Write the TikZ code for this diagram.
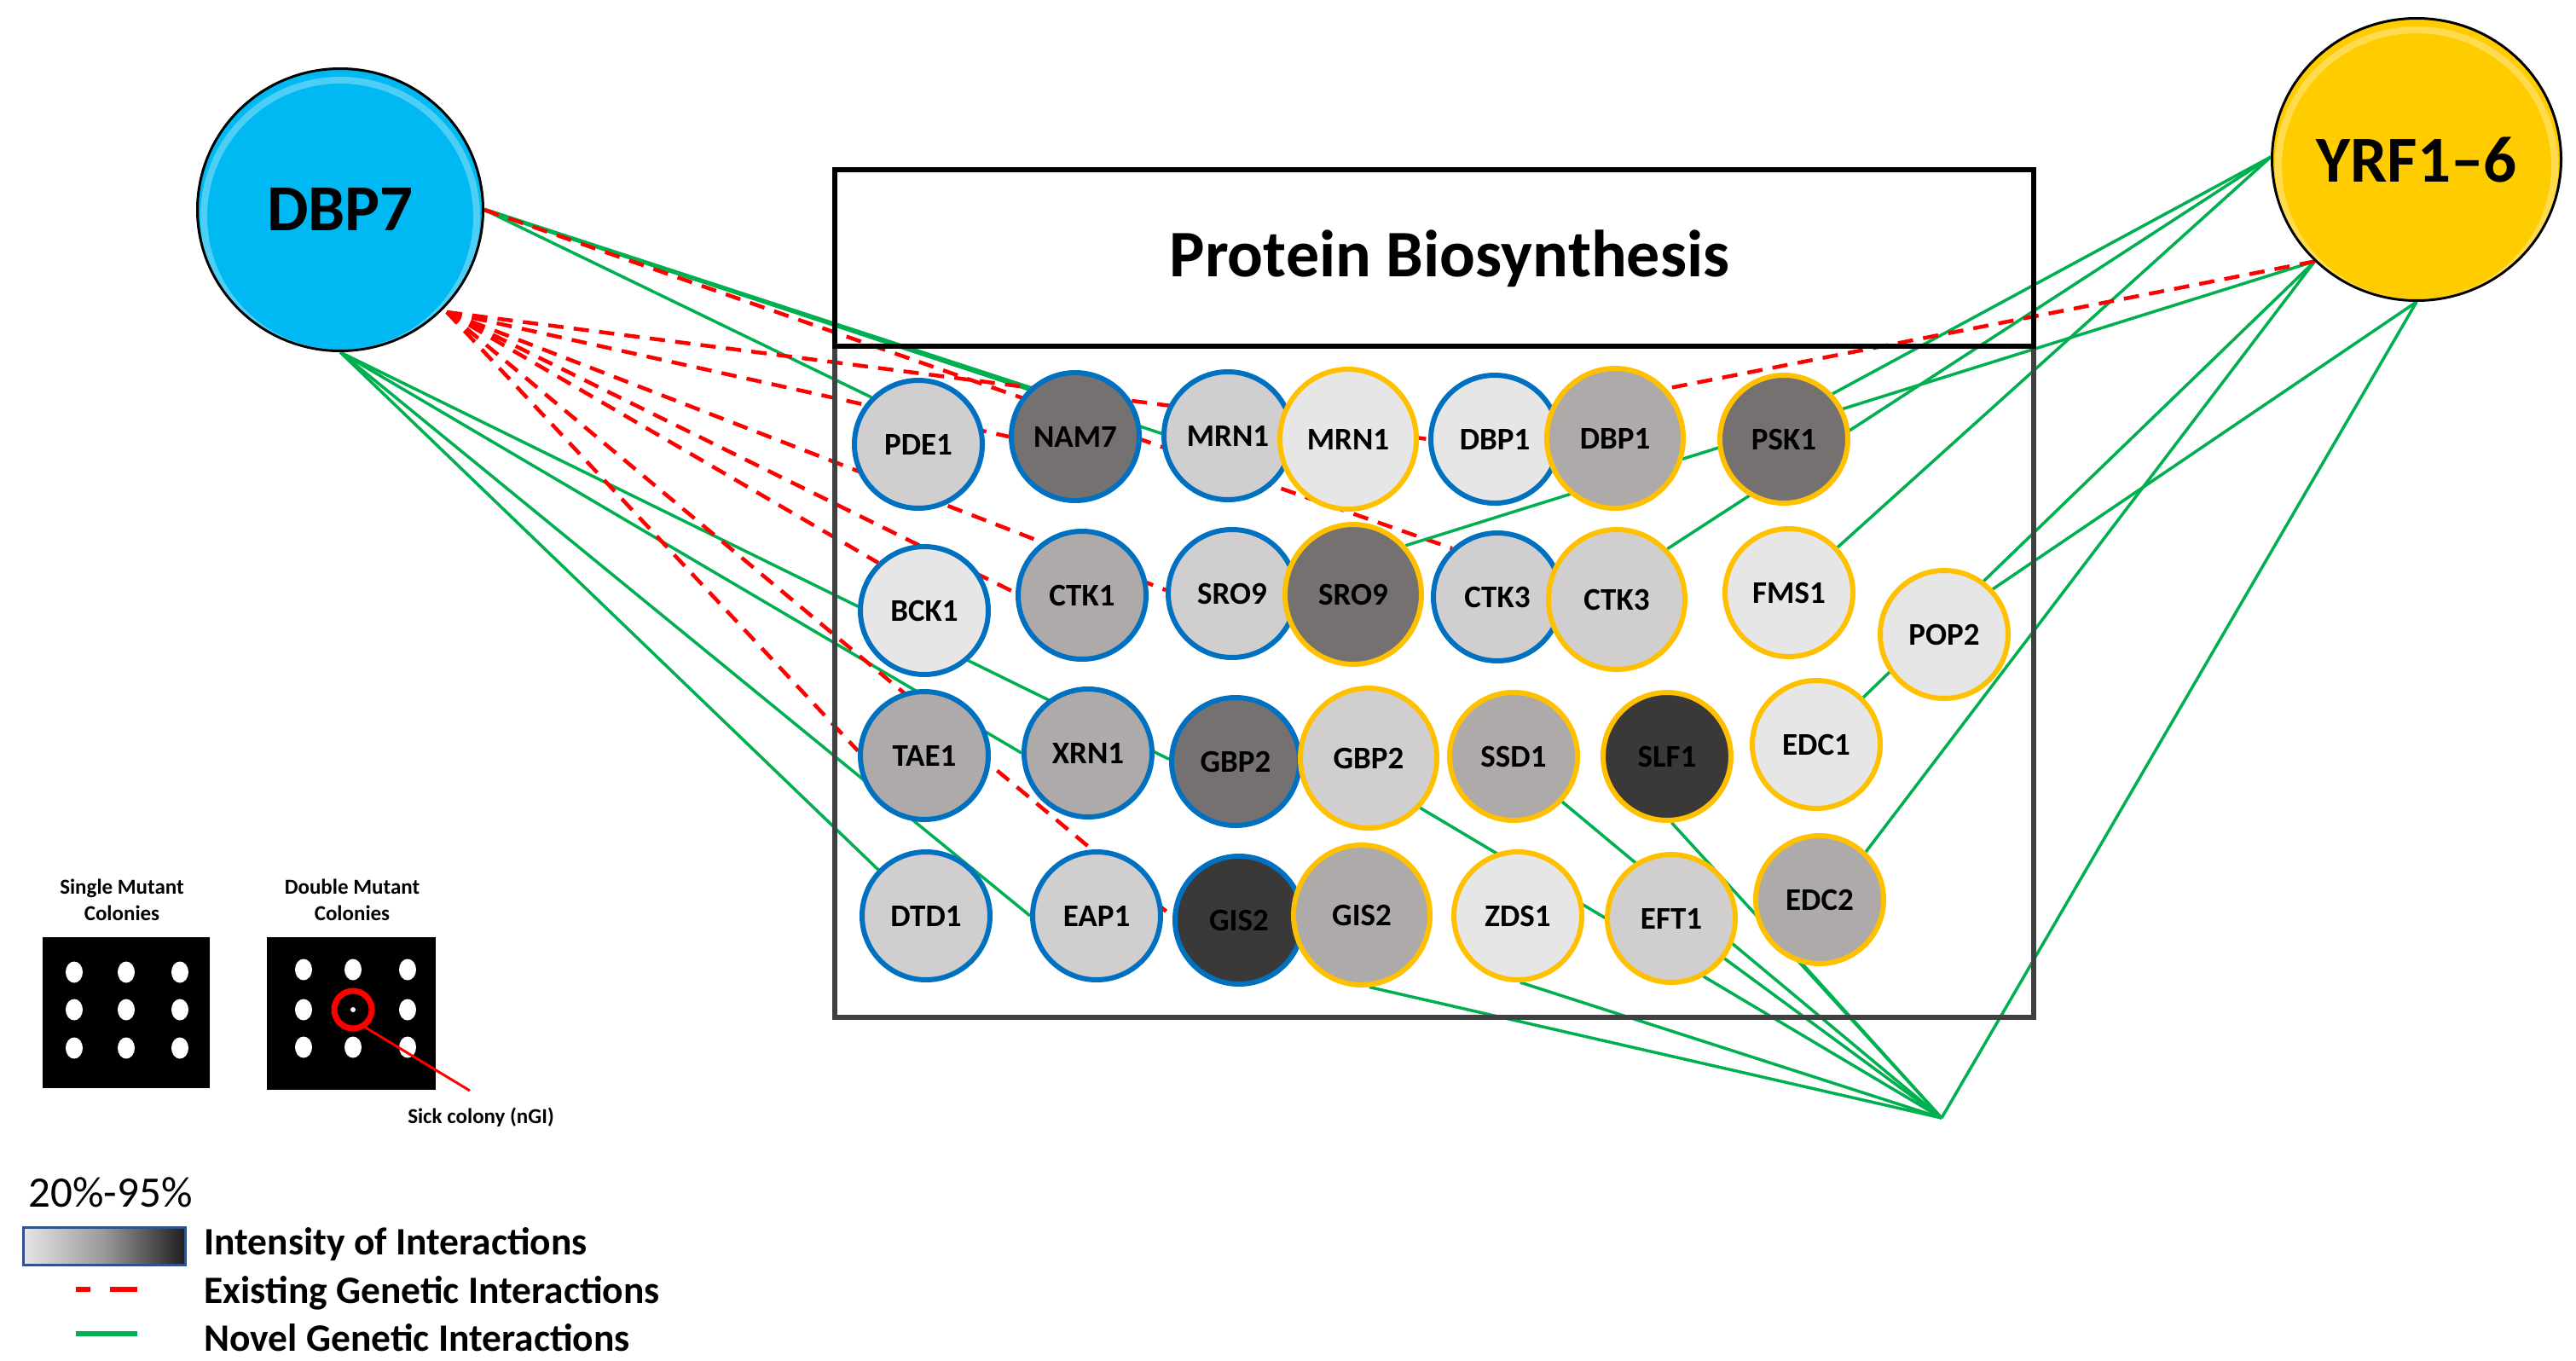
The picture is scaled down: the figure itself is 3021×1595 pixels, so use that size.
\documentclass[tikz,border=0pt]{standalone}
\usepackage{fontspec}
\setmainfont{Carlito}
\usetikzlibrary{shapes.geometric,backgrounds,calc}
\definecolor{gA}{HTML}{E7E6E6}
\definecolor{gB}{HTML}{D0CECE}
\definecolor{gC}{HTML}{AEAAAA}
\definecolor{gD}{HTML}{767171}
\definecolor{gE}{HTML}{3B3838}
\definecolor{bordB}{HTML}{0070C0}
\definecolor{bordY}{HTML}{FFC000}
\definecolor{novel}{HTML}{00B050}
\definecolor{exist}{HTML}{FF0000}
\definecolor{dbpcol}{HTML}{00B9F2}
\definecolor{yrfcol}{HTML}{FFCC00}
\definecolor{boxgray}{HTML}{404040}
\definecolor{legblue}{HTML}{2F528F}
\begin{document}
\begin{tikzpicture}[x=1pt,y=-1pt,
  gene/.style={ellipse, minimum width=150pt, minimum height=150pt, line width=6pt, inner sep=0pt,
    font=\bfseries\fontsize{37}{40}\selectfont},
  bgene/.style={gene, draw=bordB},
  ygene/.style={gene, draw=bordY},
  biggene/.style={minimum width=160pt, minimum height=164pt},
  hubnode/.style={ellipse, line width=3pt, draw=black, inner sep=0pt, font=\bfseries\fontsize{77}{80}\selectfont},
  nov/.style={draw=novel, line width=3.5pt},
  exi/.style={draw=exist, line width=4.5pt, dash pattern=on 18pt off 12pt},
  legtext/.style={anchor=west, font=\bfseries\fontsize{45.5}{50}\selectfont},
  smalltext/.style={font=\bfseries\fontsize{25}{31}\selectfont, align=center},
  dot/.style={ellipse, fill=white, minimum width=20pt, minimum height=25pt, inner sep=0pt},
]
\useasboundingbox (0,0) rectangle (3021,1595);

% ---------- boxes ----------
\draw[boxgray, line width=6pt] (979,406) rectangle (2385,1193);
\draw[black, line width=6pt] (979,199) rectangle (2385,406);
\node[font=\bfseries\fontsize{78}{82}\selectfont] (title) at (1700,303) {Protein Biosynthesis};

% ---------- hubs ----------
\node[hubnode, fill=dbpcol, minimum width=335pt, minimum height=331pt] (dbp7) at (399,246) {DBP7};
\node[hubnode, fill=yrfcol, minimum width=339pt, minimum height=331pt] (yrf) at (2834,187) {YRF1–6};
\begin{scope}
  \clip (399,246) ellipse (166pt and 164pt);
  \draw[white, opacity=0.3, line width=8pt] (399,254) ellipse (160pt and 160pt);
\end{scope}
\begin{scope}
  \clip (2834,187) ellipse (168pt and 164pt);
  \draw[white, opacity=0.3, line width=8pt] (2834,195) ellipse (162pt and 160pt);
\end{scope}

% ---------- blue genes (DBP7 side) ----------
\node[bgene, fill=gB] (pde1)  at (1077,521) {PDE1};
\node[bgene, fill=gD] (nam7)  at (1261,512) {NAM7};
\node[bgene, fill=gB] (mrn1b) at (1440,511) {MRN1};
\node[bgene, fill=gA] (dbp1b) at (1753,515) {DBP1};
\node[bgene, fill=gA] (bck1)  at (1084,716) {BCK1};
\node[bgene, fill=gC] (ctk1)  at (1269,698) {CTK1};
\node[bgene, fill=gB] (sro9b) at (1445,696) {SRO9};
\node[bgene, fill=gB] (ctk3b) at (1756,700) {CTK3};
\node[bgene, fill=gC] (tae1)  at (1084,886) {TAE1};
\node[bgene, fill=gC] (xrn1)  at (1276,883) {XRN1};
\node[bgene, fill=gD] (gbp2b) at (1449,893) {GBP2};
\node[bgene, fill=gB] (dtd1)  at (1086,1074) {DTD1};
\node[bgene, fill=gB] (eap1)  at (1286,1074) {EAP1};
\node[bgene, fill=gE] (gis2b) at (1453,1079) {GIS2};

% ---------- yellow genes (YRF1-6 side) ----------
\node[ygene, biggene, fill=gA] (mrn1y) at (1581,515) {MRN1};
\node[ygene, biggene, fill=gC] (dbp1y) at (1894,514) {DBP1};
\node[ygene, fill=gD] (psk1)  at (2092,515) {PSK1};
\node[ygene, biggene, fill=gD] (sro9y) at (1587,697) {SRO9};
\node[ygene, biggene, fill=gB] (ctk3y) at (1896,703) {CTK3};
\node[ygene, fill=gA] (fms1)  at (2098,695) {FMS1};
\node[ygene, fill=gA] (pop2)  at (2280,744) {POP2};
\node[ygene, biggene, fill=gB] (gbp2y) at (1605,889) {GBP2};
\node[ygene, fill=gC] (ssd1)  at (1775,887) {SSD1};
\node[ygene, fill=gE] (slf1)  at (1955,887) {SLF1};
\node[ygene, fill=gA] (edc1)  at (2130,873) {EDC1};
\node[ygene, biggene, fill=gC] (gis2y) at (1597,1073) {GIS2};
\node[ygene, fill=gA] (zds1)  at (1780,1074) {ZDS1};
\node[ygene, fill=gB] (eft1)  at (1960,1077) {EFT1};
\node[ygene, fill=gC] (edc2)  at (2134,1055) {EDC2};

\coordinate (hub) at (2277,1311);
\coordinate (dbpr) at (dbp7.east);
\coordinate (dbpo) at ($(dbp7.center)+(125,120)$);
\coordinate (dbpb) at (dbp7.south);
\coordinate (yl) at (yrf.179);
\coordinate (yll) at (yrf.225);
\coordinate (yb) at (yrf.south);

% ---------- connectors ----------
\begin{pgfonlayer}{background}
  % DBP7 novel
  \draw[nov, line width=5pt] (dbpr) -- (nam7.133);
  \draw[nov] (dbpr) -- (mrn1b.178);
  \draw[nov] (dbpr) -- (pde1.135);
  \draw[nov] (dbpb) -- (gbp2b.178);
  \draw[nov] (dbpb) -- (xrn1.180);
  \draw[nov] (dbpb) -- (eap1.180);
  \draw[nov] (dbpb) -- (dtd1.136);
  % DBP7 existing
  \draw[exi] (dbpr) -- (ctk3b.133);
  \draw[exi] (dbpo) -- (dbp1b.180);
  \draw[exi] (dbpo) -- (nam7.180);
  \draw[exi] (dbpo) -- (sro9b.177);
  \draw[exi] (dbpo) -- (ctk1.178);
  \draw[exi] (dbpo) -- (bck1.134);
  \draw[exi] (dbpo) -- (gis2b.177);
  \draw[exi] (dbpo) -- (tae1.176);
  % YRF1-6 novel
  \draw[nov] (yl) -- (psk1.43);
  \draw[nov] (yl) -- (ctk3y.45);
  \draw[nov] (yl) -- (fms1.43);
  \draw[nov] (yll) -- (sro9y.43);
  \draw[nov] (yll) -- (edc1.45);
  \draw[nov] (yll) -- (edc2.46);
  \draw[nov] (yb) -- (pop2.43);
  \draw[nov] (yb) -- (hub);
  % YRF1-6 existing
  \draw[exi] (yll) -- (dbp1y.44);
  % hub
  \draw[nov] (hub) -- (gis2y.-84);
  \draw[nov] (hub) -- (zds1.-88);
  \draw[nov] (hub) -- (gbp2y.-44);
  \draw[nov] (hub) -- (ssd1.-43);
  \draw[nov] (hub) -- (slf1.-86);
  \draw[nov] (hub) -- (eft1.-37);
  \draw[nov] (hub) -- (edc2.-105);
\end{pgfonlayer}

% ---------- colony legend ----------
\node[smalltext] (single) at (143,1055) {Single Mutant\\Colonies};
\node[smalltext] (double) at (413,1055) {Double Mutant\\Colonies};
\node[fill=black, minimum width=196pt, minimum height=177pt, inner sep=0pt] (plate1) at (148,1187.5) {};
\node[fill=black, minimum width=198pt, minimum height=179pt, inner sep=0pt] (plate2) at (412,1188.5) {};
\foreach \xx in {87,148,211}{
  \foreach \yy in {1140,1184,1229}{
    \node[dot] at (\xx,\yy) {};
  }
}
\foreach \xx/\yy in {356/1137,414/1137,478/1137,356/1184,478/1184,356/1228,414/1228,478/1228}{
  \node[dot] at (\xx,\yy) {};
}
\node[circle, fill=white, minimum size=6pt, inner sep=0pt] (sick) at (414,1184) {};
\node[circle, draw=exist, line width=7pt, minimum size=44pt, inner sep=0pt] (ring) at (414,1184) {};
\coordinate (sickend) at (551,1279);
\draw[exist, line width=3pt] (ring.-55) -- (sickend);
\node[smalltext] (sicklabel) at (564,1310) {Sick colony (nGI)};

% ---------- interaction legend ----------
\node[anchor=west, font=\fontsize{51}{55}\selectfont] (pct) at (30,1398) {20\%-95\%};
\shade[left color=gA, right color=black!88, middle color=gray!80] (27,1439) rectangle (217,1483);
\draw[legblue, line width=3pt] (27,1439) rectangle (217,1483);
\node[legtext] (lint) at (236,1459) {Intensity of Interactions};
\coordinate (ea) at (89,1512); \coordinate (eb) at (106,1512);
\coordinate (ec) at (129,1512); \coordinate (ed) at (161,1512);
\draw[exist, line width=6pt] (ea) -- (eb);
\draw[exist, line width=6pt] (ec) -- (ed);
\node[legtext] (lexi) at (236,1516) {Existing Genetic Interactions};
\coordinate (na) at (89,1564); \coordinate (nb) at (161,1564);
\draw[novel, line width=6pt] (na) -- (nb);
\node[legtext] (lnov) at (236,1569) {Novel Genetic Interactions};
\end{tikzpicture}
\end{document}
